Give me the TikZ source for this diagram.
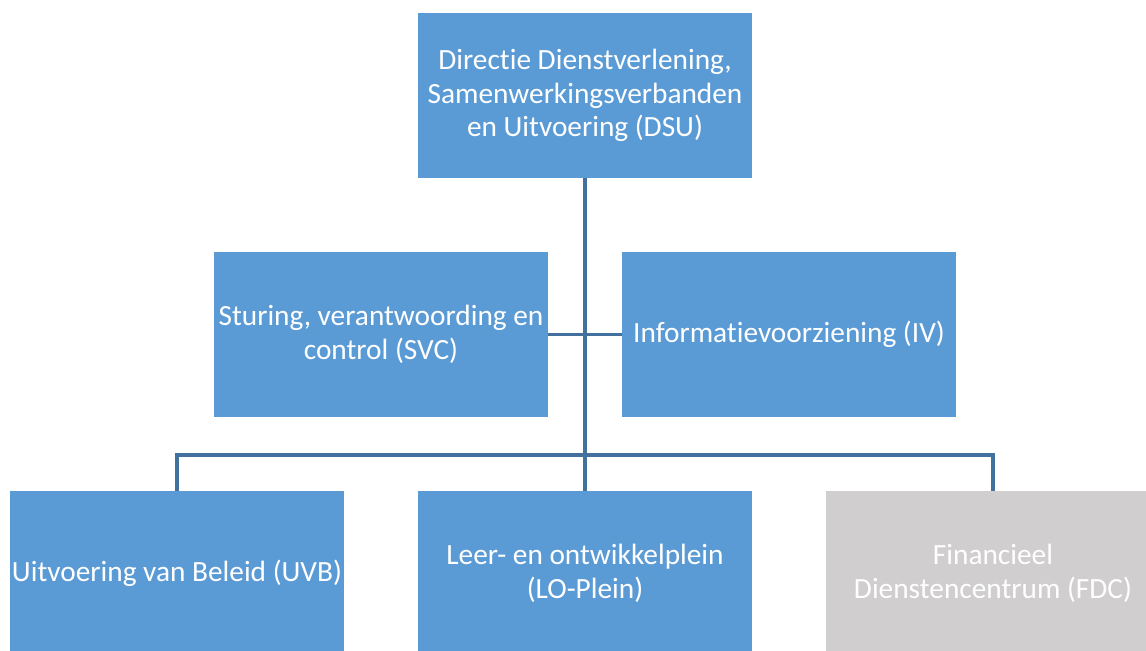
\documentclass[tikz,border=0pt]{standalone}
\usepackage{fontspec}
\setmainfont{Carlito}[Ligatures=NoCommon]
\definecolor{boxblue}{HTML}{5B9BD5}
\definecolor{boxgray}{HTML}{D0CECE}
\definecolor{linkblue}{HTML}{41719C}
\begin{document}
\begin{tikzpicture}[x=0.75pt,y=-0.75pt,
  orgbox/.style={fill=boxblue,draw=none,minimum width=250.5pt,minimum height=123.75pt,
    inner sep=0pt,align=center,text=white,font=\fontsize{22pt}{25pt}\selectfont},
  graybox/.style={orgbox,fill=boxgray},
  link/.style={draw=linkblue,line width=2.4pt}]
\useasboundingbox (0,0) rectangle (1146,650);
\clip (0,0) rectangle (1146,650);
\fill[white] (0,0) rectangle (1146,650);
\node[orgbox] (dsu) at (585,95.5) {Directie Dienstverlening,\\Samenwerkingsverbanden\\en Uitvoering (DSU)};
\node[orgbox] (svc) at (381,334.5) {Sturing, verantwoording en\\control (SVC)};
\node[orgbox] (iv) at (789,334.5) {Informatievoorziening (IV)};
\node[orgbox] (uvb) at (177,573.5) {Uitvoering van Beleid (UVB)};
\node[orgbox] (lo) at (585,573.5) {Leer- en ontwikkelplein\\(LO-Plein)};
\node[graybox] (fdc) at (993,573.5) {Financieel\\Dienstencentrum (FDC)};
\coordinate (bus) at (585,455);
\draw[link] (dsu.south) -- (bus);
\draw[link] (svc.east) -- (iv.west);
\draw[link] (uvb.north) |- (bus) -| (fdc.north);
\draw[link] (bus) -- (lo.north);
\end{tikzpicture}
\end{document}
